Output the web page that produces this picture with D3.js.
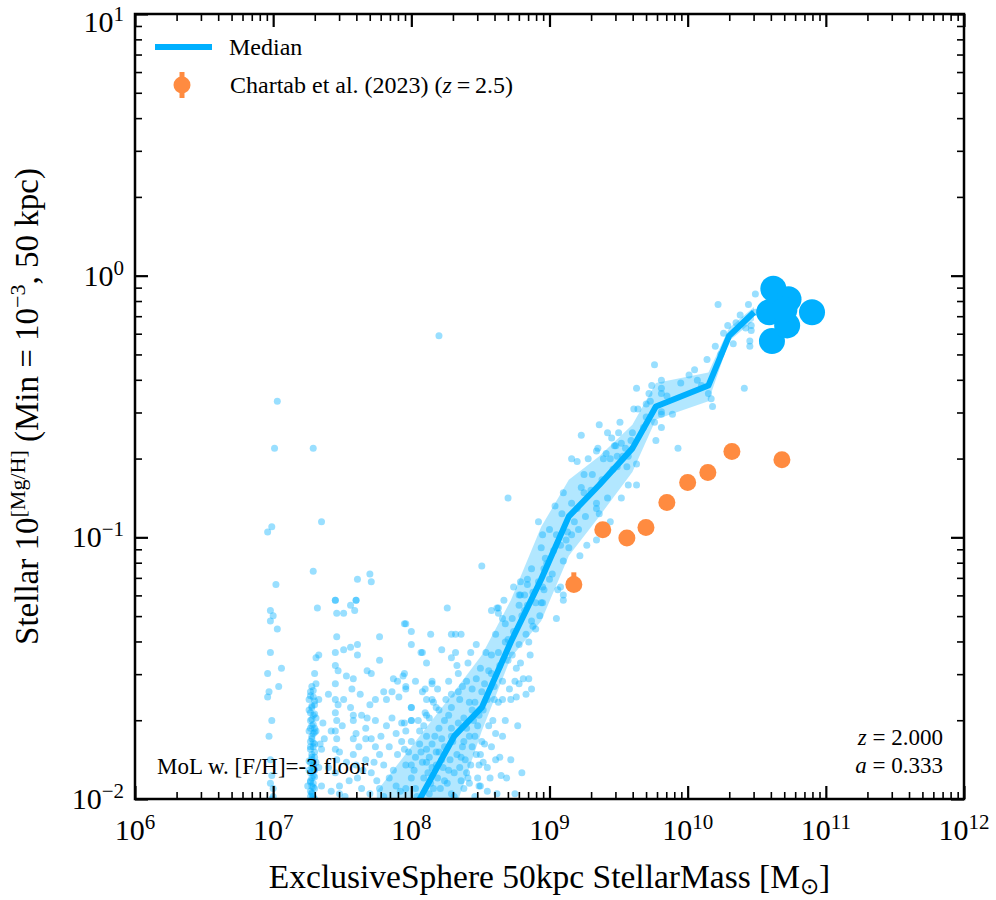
<!DOCTYPE html>
<html>
<head>
<meta charset="utf-8">
<script src="https://cdn.jsdelivr.net/npm/d3@7"></script>
<style>
  body { margin: 0; background: #fff; }
  svg { display: block; }
  text { font-family: "Liberation Serif", "Times New Roman", serif; fill: #000; }
</style>
</head>
<body>
<div id="chart"></div>
<script>
// ---------------------------------------------
// DATA
// ---------------------------------------------
const xTickExp = [6, 7, 8, 9, 10, 11, 12];
const yTickExp = [-2, -1, 0, 1];

// median + 16/84 band, log10 stellar mass vs [Mg/H]
const binLogMass = [7.75, 8.31, 8.51, 8.72, 8.94, 9.14, 9.36, 9.60, 9.77, 10.15, 10.30, 10.48];
const medianMgH  = [-2.30, -1.76, -1.65, -1.40, -1.16, -0.92, -0.80, -0.66, -0.50, -0.42, -0.23, -0.14];
const lowerMgH   = [-2.60, -2.05, -1.74, -1.46, -1.32, -1.07, -0.92, -0.75, -0.55, -0.48, -0.25, -0.17];
const upperMgH   = [-1.97, -1.59, -1.45, -1.24, -0.96, -0.78, -0.69, -0.57, -0.41, -0.37, -0.20, -0.12];

// massive galaxies above the last bin
const massiveLogMass = [10.62, 10.73, 10.90, 10.61, 10.72, 10.59, 10.70];
const massiveMgH     = [-0.05, -0.09, -0.14, -0.25, -0.19, -0.14, -0.13];

// Chartab et al. (2023), z = 2.5
const chartabMass  = [1.50e9, 2.43e9, 3.63e9, 4.99e9, 7.07e9, 1.00e10, 1.40e10, 2.09e10, 4.81e10];
const chartabVal   = [0.066, 0.107, 0.0995, 0.109, 0.136, 0.162, 0.177, 0.213, 0.198];
const chartabErrLo = [0.003, 0.004, 0.004, 0.004, 0.005, 0.006, 0.006, 0.008, 0.006];
const chartabErrHi = [0.0075, 0.004, 0.004, 0.004, 0.005, 0.006, 0.006, 0.010, 0.006];

// individual simulated galaxies [log10 M*, [Mg/H]]
const simPoints = [
  // sparse upper points
  [7.03,-0.48],[7.01,-0.66],[7.29,-0.66],[6.99,-0.96],[6.96,-0.98],[7.35,-0.94],[7.29,-1.13],[7.02,-1.18],
  [7.61,-1.16],[7.70,-1.14],[7.71,-1.17],[7.45,-1.24],[7.60,-1.24],[8.20,-0.23],[8.51,-1.11],
  // ~1e7 column
  [6.98,-1.28],[7.00,-1.30],[6.98,-1.32],[7.03,-1.35],[6.98,-1.44],[7.06,-1.50],[6.96,-1.52],[7.04,-1.57],
  [6.97,-1.59],[6.96,-1.61],[6.99,-1.70],[6.97,-1.76],[6.99,-1.91],[6.98,-1.94],[7.00,-1.99],
  [6.98,-1.85],[7.00,-1.96],[6.99,-2.00],
  // ~2e7 column
  [7.32,-1.27],[7.31,-1.46],[7.33,-1.45],[7.30,-1.52],[7.31,-1.56],[7.28,-1.57],
  [7.27,-1.59],[7.29,-1.61],[7.26,-1.62],[7.30,-1.64],[7.28,-1.65],[7.27,-1.67],[7.29,-1.68],[7.31,-1.69],
  [7.27,-1.70],[7.28,-1.72],[7.30,-1.73],[7.26,-1.74],[7.29,-1.75],[7.28,-1.77],[7.27,-1.78],[7.30,-1.79],
  [7.29,-1.80],[7.27,-1.81],[7.28,-1.83],[7.30,-1.84],[7.28,-1.85],[7.27,-1.86],[7.29,-1.87],[7.28,-1.88],
  [7.30,-1.89],[7.27,-1.90],[7.29,-1.91],[7.28,-1.92],[7.27,-1.93],[7.29,-1.94],[7.28,-1.95],[7.30,-1.96],
  [7.27,-1.97],[7.28,-1.98],[7.29,-1.99],[7.28,-2.00],
  [7.29,-1.585],[7.27,-1.605],[7.30,-1.625],[7.28,-1.645],[7.26,-1.66],[7.30,-1.675],[7.28,-1.695],[7.29,-1.715],
  [7.27,-1.73],[7.30,-1.745],[7.28,-1.76],[7.29,-1.785],[7.27,-1.80],[7.30,-1.82],[7.28,-1.84],[7.26,-1.855],
  [7.29,-1.875],[7.28,-1.895],[7.30,-1.915],[7.27,-1.935],[7.29,-1.955],[7.28,-1.975],[7.27,-1.99],[7.30,-2.00],
  [7.31,-1.74],[7.31,-1.86],[7.26,-1.89],[7.25,-1.95],
  [7.36,-1.71],[7.35,-1.81],[7.37,-1.77],[7.35,-1.95],[7.33,-1.88],[7.33,-1.62],[7.34,-1.79],
  // 3e7 - 7e7
  [7.45,-1.24],[7.60,-1.24],[7.56,-1.26],[7.59,-1.28],[7.46,-1.29],[7.51,-1.29],[7.46,-1.38],[7.56,-1.42],
  [7.61,-1.41],[7.51,-1.43],[7.45,-1.44],[7.61,-1.45],[7.45,-1.49],[7.47,-1.51],[7.68,-1.51],[7.71,-1.52],
  [7.58,-1.54],[7.45,-1.56],[7.57,-1.58],[7.45,-1.62],[7.47,-1.64],[7.51,-1.62],[7.45,-1.67],[7.58,-1.68],
  [7.64,-1.68],[7.68,-1.69],[7.67,-1.73],[7.58,-1.70],[7.60,-1.75],[7.46,-1.70],[7.45,-1.74],[7.46,-1.77],
  [7.45,-1.81],[7.48,-1.82],[7.58,-1.77],[7.67,-1.77],[7.74,-1.80],[7.71,-1.77],[7.46,-1.85],[7.45,-1.90],
  [7.48,-1.95],[7.58,-1.83],[7.60,-1.87],[7.61,-1.92],[7.67,-1.85],[7.71,-1.90],[7.64,-1.96],[7.48,-1.98],
  [7.40,-1.88],[7.42,-1.97],[7.50,-1.72],[7.53,-1.86],[7.55,-1.93],[7.52,-1.99],[7.62,-1.80],[7.65,-1.89],
  [7.70,-1.98],[7.73,-1.86],[7.75,-1.93],[7.78,-1.76],[7.80,-1.99],[7.63,-1.60],[7.70,-1.64],[7.53,-1.53],
  [7.40,-1.60],[7.42,-1.74],[7.56,-1.65],[7.74,-1.70],
  // 6e7 - 1.5e8
  [7.77,-1.38],[7.77,-1.47],[7.95,-1.33],[8.00,-1.36],[8.00,-1.41],[8.14,-1.37],[8.07,-1.44],[8.11,-1.48],
  [7.87,-1.54],[7.90,-1.55],[7.94,-1.53],[7.80,-1.59],[7.86,-1.59],[7.96,-1.58],[8.08,-1.59],[8.15,-1.55],
  [7.74,-1.62],[7.82,-1.62],[7.91,-1.61],[8.00,-1.65],[8.11,-1.62],[8.15,-1.62],[7.86,-1.69],[8.00,-1.70],
  [7.82,-1.72],[7.93,-1.71],[7.89,-1.75],[7.96,-1.74],[8.11,-1.68],[8.09,-1.72],[7.77,-1.83],[7.80,-1.87],
  [7.84,-1.92],[7.89,-1.95],[7.96,-1.87],[8.00,-1.92],[8.03,-1.84],[8.11,-1.81],[8.18,-1.87],[8.14,-1.94],
  [7.77,-1.96],[7.96,-1.33],[8.26,-1.27],[8.29,-1.37],[8.32,-1.37],[8.36,-1.37],
  [7.84,-1.80],[7.87,-1.89],[7.90,-1.83],[7.92,-1.97],[7.93,-1.78],[7.98,-1.82],[8.02,-1.89],[8.04,-1.99],
  [8.06,-1.79],[8.08,-1.86],[8.12,-1.90],[8.13,-1.84],[8.16,-1.96],[8.17,-1.76],[8.18,-1.82],
  // 1e8 - 3e8
  [8.22,-1.43],[8.08,-1.44],[8.32,-1.44],[8.43,-1.44],[8.47,-1.41],[8.29,-1.46],[8.41,-1.48],[8.34,-1.52],
  [8.33,-1.49],[7.95,-1.52],[8.03,-1.55],[8.15,-1.56],[7.96,-1.57],[8.19,-1.58],[8.29,-1.60],[8.16,-1.63],
  [8.25,-1.62],[8.00,-1.65],[8.20,-1.66],[8.10,-1.67],[8.29,-1.65],[8.13,-1.69],[8.27,-1.68],[8.00,-1.70],
  [7.95,-1.71],[8.06,-1.74],[8.20,-1.73],[8.29,-1.73],[8.40,-1.73],[8.11,-1.76],[8.22,-1.77],[8.29,-1.76],
  [8.00,-1.78],[8.15,-1.79],[7.95,-1.81],[8.07,-1.82],[8.20,-1.82],[8.36,-1.84],[8.47,-1.83],[8.11,-1.86],
  [8.22,-1.85],[8.00,-1.87],[8.15,-1.88],[8.27,-1.89],[8.40,-1.90],[8.49,-1.87],[8.55,-1.88],[8.61,-1.85],
  [8.09,-1.92],[8.19,-1.92],[8.36,-1.93],[8.42,-1.94],[7.96,-1.96],[8.21,-1.96],[8.49,-1.95],[8.65,-1.91],
  [8.29,-1.98],[8.13,-1.98],[8.03,-1.96],
  [8.23,-1.88],[8.24,-1.80],[8.26,-1.94],[8.28,-1.85],[8.30,-1.78],[8.31,-1.99],[8.33,-1.83],[8.35,-1.88],
  [8.37,-1.80],[8.38,-1.69],[8.39,-1.85],[8.41,-1.92],[8.43,-1.87],[8.44,-1.66],[8.46,-1.76],[8.48,-1.72],
  [8.50,-1.95],[8.52,-1.86],[8.53,-1.79],[8.57,-1.92],[8.59,-1.70],[8.62,-1.98],[8.64,-1.84],[8.66,-1.76],
  [8.69,-1.92],[8.72,-1.85],[8.75,-1.98],[8.77,-1.72],[8.80,-1.90],
  [8.05,-1.70],[8.10,-1.58],[8.18,-1.65],[8.24,-1.70],[8.27,-1.55],[8.35,-1.62],[8.37,-1.57],[8.44,-1.58],
  // along the band, 2e8 - 1e9
  [8.34,-1.59],[8.40,-1.55],[8.47,-1.54],[8.42,-1.63],[8.51,-1.59],[8.56,-1.51],[8.63,-1.44],[8.61,-1.37],
  [8.68,-1.33],[8.73,-1.31],[8.63,-1.29],[8.83,-1.37],[8.87,-1.32],[8.90,-1.35],[8.78,-1.41],[8.76,-1.50],
  [8.71,-1.58],[8.63,-1.63],[8.68,-1.70],[8.61,-1.75],[8.56,-1.72],[8.49,-1.68],[8.51,-1.78],[8.81,-1.54],
  [8.85,-1.54],[8.78,-1.56],[8.76,-1.61],[8.87,-1.58],[8.83,-1.60],[8.95,-1.25],[9.05,-1.31],[8.58,-1.28],
  [8.63,-1.27],[8.66,-1.31],[9.10,-1.24],
  [8.45,-1.70],[8.52,-1.66],[8.38,-1.78],[8.44,-1.80],[8.50,-1.83],[8.58,-1.80],[8.34,-1.71],[8.42,-1.76],
  [8.48,-1.92],[8.55,-1.97],[8.38,-1.96],[8.46,-1.99],[8.31,-1.90],[8.24,-1.93],[8.60,-1.62],[8.66,-1.55],
  [8.70,-1.47],[8.58,-1.52],[8.54,-1.44],[8.68,-1.40],[8.72,-1.62],[8.74,-1.36],[8.80,-1.30],[8.84,-1.26],
  [8.78,-1.22],[8.88,-1.21],[8.92,-1.17],[8.86,-1.45],
  [8.46,-1.63],[8.50,-1.50],[8.53,-1.56],[8.55,-1.62],[8.58,-1.45],[8.60,-1.57],[8.64,-1.49],[8.66,-1.62],
  [8.70,-1.39],[8.73,-1.45],[8.75,-1.55],[8.79,-1.48],[8.82,-1.28],[8.85,-1.40],[8.88,-1.34],[8.90,-1.25],
  [8.93,-1.30],[8.96,-1.20],[8.98,-1.10],[9.02,-1.14],[9.03,-1.05],[9.06,-1.20],
  // 5e8 - 5e9
  [9.23,-0.61],[9.42,-0.60],[9.45,-0.62],[9.52,-0.64],[9.48,-0.65],[9.35,-0.66],[9.34,-0.67],[9.41,-0.68],
  [9.49,-0.69],[9.57,-0.69],[9.16,-0.70],[9.20,-0.71],[9.28,-0.70],[9.39,-0.70],[9.44,-0.70],[9.56,-0.73],
  [9.49,-0.73],[9.63,-0.72],[9.25,-0.76],[9.57,-0.80],[9.63,-0.80],[9.23,-0.81],[9.25,-0.83],[9.10,-0.83],
  [9.38,-0.78],[9.42,-0.85],[9.52,-0.85],[8.70,-0.85],[9.16,-0.87],[9.34,-0.87],[9.04,-0.88],[9.34,-0.89],
  [9.36,-0.91],[9.09,-0.91],[9.26,-0.92],[9.18,-0.94],[8.92,-0.94],[9.44,-0.94],[9.00,-0.97],[8.95,-0.99],
  [9.05,-0.99],[9.16,-0.99],[9.34,-1.01],[9.12,-1.01],[9.27,-1.03],[8.94,-1.04],[9.08,-1.03],[8.97,-1.08],
  [9.22,-1.07],[9.10,-1.09],[8.87,-1.12],[8.96,-1.12],[9.00,-1.16],[8.84,-1.16],[8.79,-1.17],[9.08,-1.19],
  [8.74,-1.19],[8.84,-1.18],[8.95,-1.19],[8.79,-1.22],[9.10,-1.22],[8.82,-1.22],[8.67,-1.24],[8.78,-1.26],
  [8.94,-1.25],[8.62,-1.27],
  [9.13,-0.98],[9.14,-1.04],[9.20,-0.89],[9.21,-0.97],[9.30,-0.82],[9.31,-0.76],[9.46,-0.74],[9.53,-0.69],
  [9.55,-0.66],
  // 4e9 - 3e10
  [10.49,-0.07],[10.22,-0.11],[10.44,-0.11],[10.49,-0.14],[10.46,-0.19],[10.46,-0.21],[10.35,-0.18],[10.29,-0.19],
  [10.26,-0.22],[10.33,-0.26],[10.45,-0.25],[10.45,-0.27],[10.20,-0.27],[10.14,-0.32],[9.76,-0.34],[10.01,-0.38],
  [10.07,-0.40],[9.81,-0.40],[9.63,-0.43],[9.74,-0.42],[9.81,-0.43],[10.41,-0.43],[9.81,-0.45],[10.15,-0.45],
  [9.72,-0.45],[10.17,-0.47],[9.73,-0.48],[10.18,-0.50],[9.61,-0.51],[9.64,-0.51],[9.81,-0.52],[9.81,-0.53],
  [9.89,-0.53],[9.70,-0.54],[9.76,-0.56],[9.51,-0.56],[9.36,-0.57],[9.50,-0.60],[9.60,-0.60],[9.81,-0.58],
  [9.47,-0.65],[9.59,-0.63],[9.77,-0.63],[9.93,-0.66],
  [9.68,-0.58],[9.70,-0.49],[9.85,-0.46],[9.95,-0.41],[10.05,-0.36],[10.10,-0.42],[10.24,-0.30],[10.38,-0.15],
  [10.42,-0.20]
];

// ---------------------------------------------
// LAYOUT
// ---------------------------------------------
const margin = { top: 14, right: 32, bottom: 101, left: 135 };
const width  = 996 - margin.left - margin.right;
const height = 900 - margin.top - margin.bottom;

const BLUE = "#00b0ff";
const ORANGE = "#ff8b40";

const svg = d3.select("#chart").append("svg")
  .attr("width", 996)
  .attr("height", 900);

const g = svg.append("g")
  .attr("transform", `translate(${margin.left},${margin.top})`);

const x = d3.scaleLog().domain([1e6, 1e12]).range([0, width]);
const y = d3.scaleLog().domain([1e-2, 1e1]).range([height, 0]);

g.append("clipPath").attr("id", "plot-clip")
  .append("rect").attr("width", width).attr("height", height);

const plot = g.append("g").attr("clip-path", "url(#plot-clip)");

// ---------------------------------------------
// MARKS
// ---------------------------------------------
plot.append("g")
  .selectAll("circle")
  .data(simPoints)
  .join("circle")
  .attr("cx", d => x(10 ** d[0]))
  .attr("cy", d => y(10 ** d[1]))
  .attr("r", 3.5)
  .attr("fill", BLUE)
  .attr("fill-opacity", 0.4);

const bins = binLogMass.map((m, i) => ({
  m: 10 ** m,
  med: 10 ** medianMgH[i],
  lo: 10 ** lowerMgH[i],
  hi: 10 ** upperMgH[i]
}));

plot.append("path")
  .datum(bins)
  .attr("fill", BLUE)
  .attr("fill-opacity", 0.3)
  .attr("d", d3.area().x(d => x(d.m)).y0(d => y(d.lo)).y1(d => y(d.hi)));

plot.append("path")
  .datum(bins)
  .attr("fill", "none")
  .attr("stroke", BLUE)
  .attr("stroke-width", 6)
  .attr("stroke-linejoin", "round")
  .attr("d", d3.line().x(d => x(d.m)).y(d => y(d.med)));

plot.append("g")
  .selectAll("circle")
  .data(massiveLogMass.map((m, i) => [m, massiveMgH[i]]))
  .join("circle")
  .attr("cx", d => x(10 ** d[0]))
  .attr("cy", d => y(10 ** d[1]))
  .attr("r", 13)
  .attr("fill", BLUE);

const chartab = chartabMass.map((m, i) => ({
  m, v: chartabVal[i], lo: chartabErrLo[i], hi: chartabErrHi[i]
}));
const obs = plot.append("g");
obs.selectAll("line")
  .data(chartab)
  .join("line")
  .attr("x1", d => x(d.m)).attr("x2", d => x(d.m))
  .attr("y1", d => y(d.v - d.lo)).attr("y2", d => y(d.v + d.hi))
  .attr("stroke", ORANGE)
  .attr("stroke-width", 5);
obs.selectAll("circle")
  .data(chartab)
  .join("circle")
  .attr("cx", d => x(d.m))
  .attr("cy", d => y(d.v))
  .attr("r", 8.5)
  .attr("fill", ORANGE);

// ---------------------------------------------
// AXES (inward ticks on all four sides)
// ---------------------------------------------
const xMajor = xTickExp.map(e => 10 ** e);
const xMinor = d3.range(6, 12).flatMap(e => d3.range(2, 10).map(k => k * 10 ** e));
const yMajor = yTickExp.map(e => 10 ** e);
const yMinor = d3.range(-2, 1).flatMap(e => d3.range(2, 10).map(k => k * 10 ** e));

function ticks(axis, values, size, sw, transform) {
  const a = g.append("g")
    .attr("transform", transform || null)
    .call(axis.tickValues(values).tickSize(-size).tickFormat(""));
  a.select(".domain").remove();
  a.selectAll("line").attr("stroke", "#000").attr("stroke-width", sw);
}

ticks(d3.axisBottom(x), xMajor, 13, 2.2, `translate(0,${height})`);
ticks(d3.axisBottom(x), xMinor, 7, 1.6, `translate(0,${height})`);
ticks(d3.axisTop(x), xMajor, 13, 2.2);
ticks(d3.axisTop(x), xMinor, 7, 1.6);
ticks(d3.axisLeft(y), yMajor, 13, 2.2);
ticks(d3.axisLeft(y), yMinor, 7, 1.6);
ticks(d3.axisRight(y), yMajor, 13, 2.2, `translate(${width},0)`);
ticks(d3.axisRight(y), yMinor, 7, 1.6, `translate(${width},0)`);

g.append("rect")
  .attr("width", width)
  .attr("height", height)
  .attr("fill", "none")
  .attr("stroke", "#000")
  .attr("stroke-width", 2.5);

// tick labels: 10^n
function powLabel(sel, e) {
  sel.append("tspan").text("10");
  sel.append("tspan")
    .attr("dy", -11)
    .attr("font-size", 21)
    .text(e < 0 ? "\u2212" + Math.abs(e) : e);
}

xTickExp.forEach(e => {
  g.append("text")
    .attr("x", x(10 ** e))
    .attr("y", height + 41)
    .attr("font-size", 30)
    .attr("text-anchor", "middle")
    .call(powLabel, e);
});

yTickExp.forEach(e => {
  // keep the topmost label inside the picture
  const base = Math.max(y(10 ** e) + 10, 18);
  g.append("text")
    .attr("x", -11)
    .attr("y", base)
    .attr("font-size", 30)
    .attr("text-anchor", "end")
    .call(powLabel, e);
});

// axis titles
const xt = svg.append("text")
  .attr("x", margin.left + width / 2)
  .attr("y", 888)
  .attr("font-size", 33.5)
  .attr("text-anchor", "middle");
xt.append("tspan").text("ExclusiveSphere 50kpc StellarMass [M");
xt.append("tspan").attr("dy", 6).attr("font-size", 23).text("\u2299");
xt.append("tspan").attr("dy", -6).text("]");

const yt = svg.append("text")
  .attr("transform", `translate(38,${margin.top + height / 2}) rotate(-90)`)
  .attr("font-size", 33)
  .attr("text-anchor", "middle");
yt.append("tspan").text("Stellar 10");
yt.append("tspan").attr("dy", -13).attr("font-size", 22).text("[Mg/H]");
yt.append("tspan").attr("dy", 13).text(" (Min = 10");
yt.append("tspan").attr("dy", -13).attr("font-size", 22).text("\u22123");
yt.append("tspan").attr("dy", 13).text(", 50 kpc)");

// ---------------------------------------------
// LEGEND + ANNOTATIONS
// ---------------------------------------------
const leg = g.append("g");
leg.append("line")
  .attr("x1", 20).attr("x2", 77)
  .attr("y1", 33).attr("y2", 33)
  .attr("stroke", BLUE).attr("stroke-width", 6);
leg.append("text")
  .attr("x", 94).attr("y", 41)
  .attr("font-size", 24)
  .text("Median");

leg.append("line")
  .attr("x1", 47).attr("x2", 47)
  .attr("y1", 58).attr("y2", 84)
  .attr("stroke", ORANGE).attr("stroke-width", 5);
leg.append("circle")
  .attr("cx", 47).attr("cy", 71).attr("r", 8.5)
  .attr("fill", ORANGE);
const lt = leg.append("text")
  .attr("x", 95).attr("y", 79)
  .attr("font-size", 24);
lt.append("tspan").text("Chartab et al. (2023) (");
lt.append("tspan").attr("font-style", "italic").text("z");
lt.append("tspan").text("\u2009=\u20092.5)");

g.append("text")
  .attr("x", 22).attr("y", 760)
  .attr("font-size", 23)
  .text("MoL w. [F/H]=-3 floor");

const zt = g.append("text")
  .attr("x", width - 21).attr("y", 731)
  .attr("font-size", 23)
  .attr("text-anchor", "end");
zt.append("tspan").attr("font-style", "italic").text("z");
zt.append("tspan").text(" = 2.000");

const at = g.append("text")
  .attr("x", width - 21).attr("y", 759)
  .attr("font-size", 23)
  .attr("text-anchor", "end");
at.append("tspan").attr("font-style", "italic").text("a");
at.append("tspan").text(" = 0.333");
</script>
</body>
</html>
